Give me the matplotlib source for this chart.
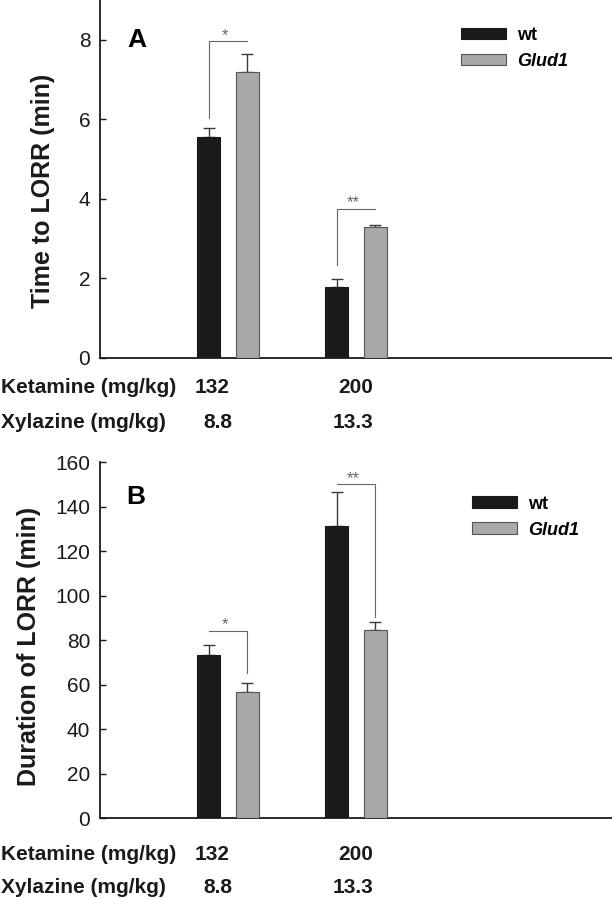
import matplotlib
matplotlib.use("Agg")
import matplotlib.pyplot as plt
import numpy as np

plt.rcParams['font.family'] = ['Liberation Sans', 'DejaVu Sans']

# ---------------- data ----------------
groups = [1, 2]
ketamine = ["132", "200"]
xylazine = ["8.8", "13.3"]
series = ["wt", "Glud1"]

time_wt = [5.55, 1.79]
time_wt_err = [0.23, 0.20]
time_glud = [7.20, 3.29]
time_glud_err = [0.44, 0.06]

dur_wt = [73.3, 131.4]
dur_wt_err = [4.6, 15.4]
dur_glud = [56.9, 84.6]
dur_glud_err = [4.0, 3.5]

time_ticks = [0, 2, 4, 6, 8]
dur_ticks = [0, 20, 40, 60, 80, 100, 120, 140, 160]

# significance: (group index, bracket level, left end, right end, label)
time_sig = [(0, 7.96, 6.03, 7.96, "*"), (1, 3.75, 2.34, 3.75, "**")]
dur_sig = [(0, 84.3, 84.3, 65.2, "*"), (1, 150.1, 150.1, 90.6, "**")]

# ---------------- style ----------------
W, H = 612, 899
fig = plt.figure(figsize=(W / 100, H / 100), dpi=100)
C_WT = "#1a1a1a"
C_GL = "#a9a9a9"
C_EDGE_GL = "#555555"
C_ERR = "#3a3a3a"
C_SIG = "#666666"
C_TXT = "#1a1a1a"
offset = 0.15
bw = 0.18


def px_axes(left, top, right, bottom):
    return fig.add_axes([left / W, 1 - bottom / H, (right - left) / W, (bottom - top) / H])


def panel(ax, wt, wterr, gl, glerr, ticks, ylim, ylabel, letter, sig, leg_anchor, label_y):
    x = np.array(groups, dtype=float)
    b1 = ax.bar(x - offset, wt, bw, color=C_WT, edgecolor=C_WT, linewidth=0.8, zorder=3, label=series[0])
    b2 = ax.bar(x + offset, gl, bw, color=C_GL, edgecolor=C_EDGE_GL, linewidth=0.8, zorder=3, label=series[1])
    ax.errorbar(x - offset, wt, yerr=[np.zeros(len(wt)), wterr], fmt='none', ecolor=C_ERR,
                elinewidth=1.0, capsize=4, capthick=1.0, zorder=2)
    ax.errorbar(x + offset, gl, yerr=[np.zeros(len(gl)), glerr], fmt='none', ecolor=C_ERR,
                elinewidth=1.0, capsize=4, capthick=1.0, zorder=2)
    for gi, lvl, yl, yr, lab in sig:
        xl = x[gi] - offset
        xr = x[gi] + offset
        ax.plot([xl, xl, xr, xr], [yl, lvl, lvl, yr], color=C_SIG, lw=0.8, zorder=4)
        ax.annotate(lab, xy=((xl + xr) / 2, lvl), xytext=(-2, 1), textcoords='offset points',
                    ha='center', va='baseline', fontsize=12, color=C_SIG)
    ax.set_xlim(0, 4)
    ax.set_ylim(*ylim)
    ax.set_yticks(ticks)
    ax.set_xticks([])
    for s in ["top", "right"]:
        ax.spines[s].set_visible(False)
    for s in ["left", "bottom"]:
        ax.spines[s].set_linewidth(1.3)
        ax.spines[s].set_color(C_TXT)
    ax.tick_params(axis='y', direction='in', length=4.5, width=1.0, pad=7,
                   labelsize=15, colors=C_TXT)
    ax.set_ylabel(ylabel, fontsize=18, fontweight='bold', color=C_TXT)
    ax.yaxis.label.set_va('center')
    ax.yaxis.set_label_coords(*label_y)
    ax.text(letter[1], letter[2], letter[0], transform=ax.transAxes, fontsize=19,
            fontweight='bold', ha='center', va='center', color='black')
    leg = ax.legend(handles=[b1, b2], loc='upper left', bbox_to_anchor=leg_anchor,
                    frameon=False, borderpad=0, borderaxespad=0, handlelength=2.5,
                    handleheight=0.6, handletextpad=0.6, labelspacing=0.5,
                    prop={'size': 13, 'weight': 'bold'})
    leg.get_texts()[1].set_fontstyle('italic')
    return ax


axA = px_axes(100, 0, 612, 358)
panel(axA, time_wt, time_wt_err, time_glud, time_glud_err, time_ticks, (0, 9),
      "Time to LORR (min)", ("A", (137 - 100) / 512, 1 - 40 / 358), time_sig,
      ((461 - 100) / 512, 1 - 27 / 358), (-57 / 512, 0.466))

axB = px_axes(100, 462.3, 612, 818.3)
panel(axB, dur_wt, dur_wt_err, dur_glud, dur_glud_err, dur_ticks, (0, 160),
      "Duration of LORR (min)", ("B", (136 - 100) / 512, (818.3 - 497) / 356), dur_sig,
      ((471.7 - 100) / 512, (818.3 - 495.5) / 356), (-71 / 512, 0.4826))

# dose rows (figure pixel positions of the column text)
ket_px = [212.5, 355.5]
xyl_px = [217.5, 353.5]
rows = [(393, 428), (860, 893)]
for (yk, yx) in rows:
    fig.text(1 / W, 1 - yk / H, "Ketamine (mg/kg)", fontsize=15, fontweight='bold',
             ha='left', va='baseline', color=C_TXT)
    fig.text(1 / W, 1 - yx / H, "Xylazine (mg/kg)", fontsize=15, fontweight='bold',
             ha='left', va='baseline', color=C_TXT)
    for k, xpx in zip(ketamine, ket_px):
        fig.text(xpx / W, 1 - yk / H, k, fontsize=15, fontweight='bold', ha='center',
                 va='baseline', color=C_TXT)
    for k, xpx in zip(xylazine, xyl_px):
        fig.text(xpx / W, 1 - yx / H, k, fontsize=15, fontweight='bold', ha='center',
                 va='baseline', color=C_TXT)

fig.savefig("out.png", dpi=100)
